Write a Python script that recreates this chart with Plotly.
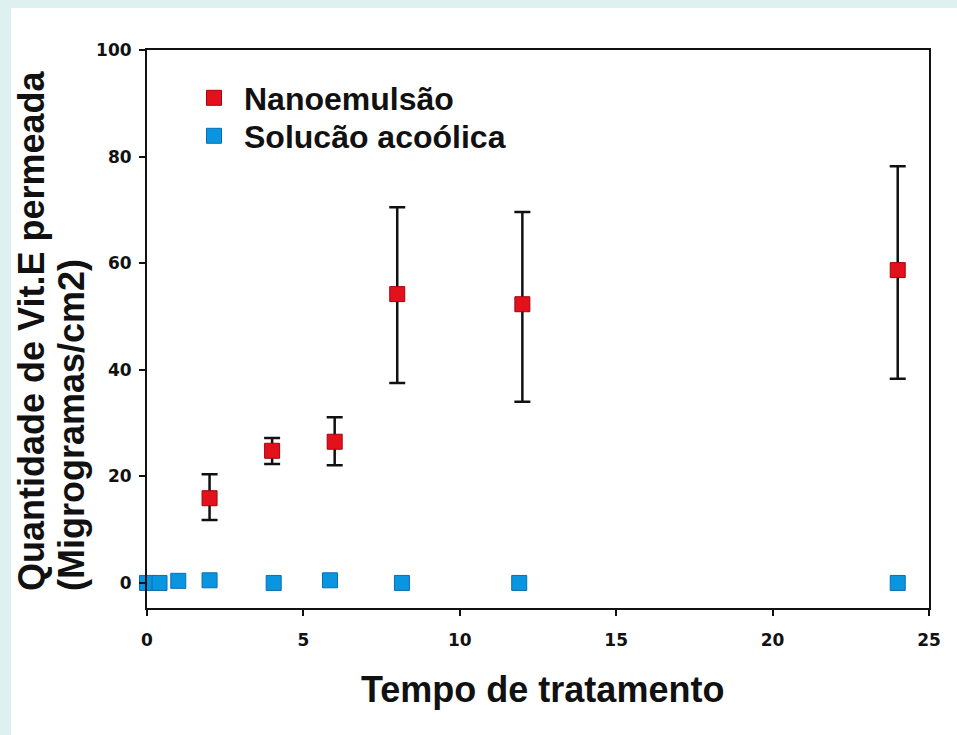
import plotly.graph_objects as go

# Data
nano_x = [2, 4, 6, 8, 12, 24]
nano_y = [15.9, 24.8, 26.5, 54.2, 52.3, 58.7]
nano_err_plus = [4.5, 2.4, 4.6, 16.3, 17.3, 19.5]
nano_err_minus = [4.1, 2.5, 4.4, 16.7, 18.3, 20.4]

sol_x = [0, 0.4, 1, 2, 4.05, 5.85, 8.15, 11.9, 24]
sol_y = [0, 0, 0.4, 0.5, 0, 0.5, 0, 0, 0]

x_ticks = [0, 5, 10, 15, 20, 25]
y_ticks = [0, 20, 40, 60, 80, 100]

L, R, T, B = 147, 28, 50, 127
W, H = 957, 735
pw, ph = W - L - R, H - T - B

def px_x(p):
    return (p - L) / pw

def px_y(p):
    return (H - B - p) / ph

fig = go.Figure()
fig.add_trace(go.Scatter(
    x=nano_x, y=nano_y, mode="markers", name="Nanoemulsão", legend="legend",
    marker=dict(symbol="square", size=15, color="#e3111b",
                line=dict(color="#a8000c", width=1)),
    error_y=dict(type="data", symmetric=False, array=nano_err_plus,
                 arrayminus=nano_err_minus, color="#111111",
                 thickness=2.5, width=8),
    cliponaxis=False,
))
fig.add_trace(go.Scatter(
    x=sol_x, y=sol_y, mode="markers", name="Solucão acoólica", legend="legend2",
    marker=dict(symbol="square", size=15, color="#0a95e0",
                line=dict(color="#0a6db0", width=1)),
    cliponaxis=False,
))

tickfont = dict(family="DejaVu Sans", size=17, color="#111111", weight="bold")
fig.update_xaxes(range=[0, 25], tickvals=x_ticks, ticks="outside", ticklen=6,
                 tickwidth=2, tickcolor="#111", showline=True, linewidth=2,
                 linecolor="#111", mirror=True, showgrid=False, zeroline=False,
                 tickfont=tickfont, ticklabelstandoff=10)
fig.update_yaxes(range=[-4.7, 100], tickvals=y_ticks, ticks="outside", ticklen=6,
                 tickwidth=2, tickcolor="#111", showline=True, linewidth=2,
                 linecolor="#111", mirror=True, showgrid=False, zeroline=False,
                 tickfont=tickfont, ticklabelstandoff=4)

title_font = dict(family="Liberation Sans", size=36, color="#111111", weight="bold")
fig.add_annotation(text="Tempo de tratamento", xref="paper", yref="paper",
                   x=px_x(542), y=px_y(689), xanchor="center", yanchor="middle",
                   showarrow=False, font=title_font)
ytitle_font = dict(family="Liberation Sans", size=36, color="#111111", weight="bold")
fig.add_annotation(text="Quantidade de Vit.E permeada", xref="paper", yref="paper",
                   x=px_x(31), y=px_y(593), xanchor="center", yanchor="bottom",
                   textangle=-90, showarrow=False, font=ytitle_font)
fig.add_annotation(text="(Migrogramas/cm2)", xref="paper", yref="paper",
                   x=px_x(71), y=px_y(593), xanchor="center", yanchor="bottom",
                   textangle=-90, showarrow=False, font=ytitle_font)

fig.add_shape(type="rect", xref="paper", yref="paper", layer="below",
              x0=px_x(11), x1=px_x(960), y0=px_y(740), y1=px_y(8),
              fillcolor="white", line=dict(width=0))

legfont = dict(family="Liberation Sans", size=32, color="#111111", weight="bold")
fig.update_layout(
    width=W, height=H,
    margin=dict(l=L, r=R, t=T, b=B),
    paper_bgcolor="#dff0f1", plot_bgcolor="white",
    showlegend=True,
    legend=dict(x=px_x(184), y=px_y(98), xanchor="left", yanchor="middle",
                bgcolor="rgba(0,0,0,0)", itemwidth=50, font=legfont),
    legend2=dict(x=px_x(184), y=px_y(136), xanchor="left", yanchor="middle",
                 bgcolor="rgba(0,0,0,0)", itemwidth=50, font=legfont),
)

fig.write_html("out.html", config={"displayModeBar": False},
               post_script="document.body.style.margin='0';")
